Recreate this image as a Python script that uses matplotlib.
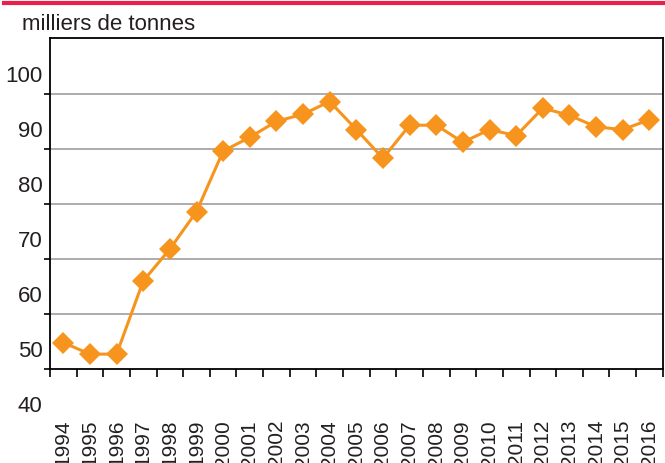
import matplotlib
matplotlib.use("Agg")
import matplotlib.pyplot as plt
from matplotlib.lines import Line2D

years = [str(y) for y in range(1994, 2017)]
values = [54.8, 52.7, 52.7, 66.0, 71.8, 78.6, 89.6, 92.1, 95.0, 96.3, 98.6,
          93.5, 88.3, 94.3, 94.3, 91.2, 93.5, 92.4, 97.4, 96.1, 94.0, 93.5, 95.3]
y_labels = [40, 50, 60, 70, 80, 90, 100]
grid_vals = [50, 60, 70, 80, 90, 100]
unit_label = "milliers de tonnes"

plt.rcParams['font.family'] = ['Liberation Sans', 'DejaVu Sans']
text_color = '#231F20'
orange = '#F7941D'

fig = plt.figure(figsize=(6.65, 4.64), dpi=100)
ax = fig.add_axes([50/665, 94/464, 612.7/665, 331.3/464])

x = list(range(len(years)))
ax.plot(x, values, color=orange, lw=2.2, marker='D', markersize=11.5,
        markeredgewidth=0, zorder=3, clip_on=False)

ax.set_xlim(-0.5, len(years) - 0.5)
ax.set_ylim(50, 110.2)

for g in grid_vals[1:]:
    ax.axhline(g, color='#A6A6A6', lw=1.3, zorder=1)

for s in ['left', 'bottom', 'top', 'right']:
    ax.spines[s].set_color('black')
    ax.spines[s].set_linewidth(1.3)

ax.set_yticks(grid_vals)
ax.set_yticklabels([])
ax.tick_params(axis='y', direction='out', length=4, width=1.2, color='black')

ax.set_xticks(x)
ax.set_xticklabels(years, rotation=90, fontsize=15, color=text_color)
ax.tick_params(axis='x', which='major', length=0, pad=36)
ax.set_xticks([i - 0.5 for i in range(len(years) + 1)], minor=True)
ax.tick_params(axis='x', which='minor', direction='out', length=6, width=1.2, color='black')

for v in y_labels:
    ax.text(-0.012, v + 3.4, str(v), transform=ax.get_yaxis_transform(),
            ha='right', va='center', fontsize=16, color=text_color, clip_on=False)

fig.text(22/665, 1 - 30/464, unit_label, ha='left', va='baseline',
         fontsize=16, color=text_color)

fig.add_artist(Line2D([4/665, 1], [1 - 4/464, 1 - 4/464], transform=fig.transFigure,
                      color='#E8204A', lw=3.0))

fig.savefig('out.png', dpi=100)
